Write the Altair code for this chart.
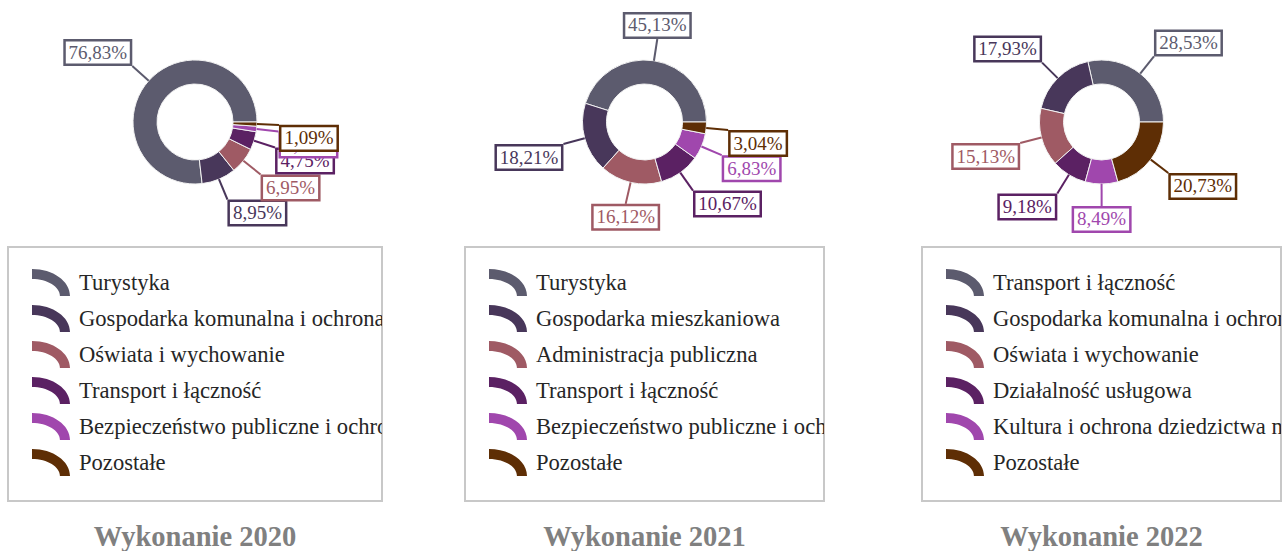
import math
import altair as alt
import pandas as pd

# Segment colours, shared by position in every year
palette = ["#5c5b6e", "#48375a", "#9f5a64", "#5b2163", "#a047ad", "#5e2e05"]

categories_2020 = [
    "Turystyka",
    "Gospodarka komunalna i ochrona środowiska",
    "Oświata i wychowanie",
    "Transport i łączność",
    "Bezpieczeństwo publiczne i ochrona przeciwpożarowa",
    "Pozostałe",
]
values_2020 = [76.83, 8.95, 6.95, 4.75, 1.43, 1.09]

categories_2021 = [
    "Turystyka",
    "Gospodarka mieszkaniowa",
    "Administracja publiczna",
    "Transport i łączność",
    "Bezpieczeństwo publiczne i ochrona przeciwpożarowa",
    "Pozostałe",
]
values_2021 = [45.13, 18.21, 16.12, 10.67, 6.83, 3.04]

categories_2022 = [
    "Transport i łączność",
    "Gospodarka komunalna i ochrona środowiska",
    "Oświata i wychowanie",
    "Działalność usługowa",
    "Kultura i ochrona dziedzictwa narodowego",
    "Pozostałe",
]
values_2022 = [28.53, 17.93, 15.13, 9.18, 8.49, 20.73]

SERIF = "Liberation Serif"
R_OUT, R_IN, LEAD = 62, 38, 22      # ring radii and leader length, px
BOX_H = 27                          # label box height, px
BOX_UNIT = 40                       # px per path unit for size=6400 symbols
DONUT_H = 242
LEGEND_H = 254

# Curved legend swatch: an elliptical quarter ring inside the unit square
ICON_PATH = ("M-1,-0.71 A2,1.42 0 0 1 1,0.71 L0.47,0.71 "
             "A1.47,0.895 0 0 0 -1,-0.185 Z")


def slice_table(cats, vals):
    total = sum(vals)
    rows, cum = [], 0.0
    for i, (c, v) in enumerate(zip(cats, vals)):
        ang = (cum + v / 2) / total * 2 * math.pi   # counter-clockwise from 3 o'clock
        cum += v
        ca, sa = math.cos(ang), math.sin(ang)
        label = f"{v:.2f}".replace(".", ",") + "%"
        bw = 9 * len(label) + 15
        ex, ey = (R_OUT + LEAD) * ca, (R_OUT + LEAD) * sa
        sx = 0 if abs(ca) < 0.3 else math.copysign(1, ca)
        sy = math.copysign(1, sa)
        hw, hh = (bw - 2.5) / 2 / BOX_UNIT, (BOX_H - 2.5) / 2 / BOX_UNIT
        rows.append({
            "idx": i, "cat": c, "value": v, "label": label, "color": palette[i],
            "x0": R_OUT * ca, "y0": R_OUT * sa, "x1": ex, "y1": ey,
            "bx": ex + sx * bw / 2, "by": ey + sy * BOX_H / 2,
            "box": f"M{-hw:.4f},{-hh:.4f}H{hw:.4f}V{hh:.4f}H{-hw:.4f}Z",
        })
    return pd.DataFrame(rows)


def donut(cats, vals, width):
    df = slice_table(cats, vals)
    xs = alt.Scale(domain=[-width / 2, width / 2], nice=False, zero=False)
    ys = alt.Scale(domain=[-DONUT_H / 2, DONUT_H / 2], nice=False, zero=False)
    base = alt.Chart(df)

    ring = base.mark_arc(radius=R_OUT, innerRadius=R_IN, stroke="#f2f2f2", strokeWidth=1).encode(
        theta=alt.Theta("value:Q", stack=True,
                        scale=alt.Scale(range=[math.pi / 2, 5 * math.pi / 2])),
        color=alt.Color("color:N", scale=None),
        order=alt.Order("idx:Q", sort="descending"),
    )
    leads = base.mark_rule(strokeWidth=2).encode(
        x=alt.X("x0:Q", scale=xs, axis=None),
        y=alt.Y("y0:Q", scale=ys, axis=None),
        x2="x1:Q", y2="y1:Q",
        color=alt.Color("color:N", scale=None),
    )
    boxes = base.mark_point(size=BOX_UNIT * BOX_UNIT * 4, strokeWidth=2.5, opacity=1,
                            fillOpacity=1, strokeOpacity=1).encode(
        x=alt.X("bx:Q", scale=xs, axis=None),
        y=alt.Y("by:Q", scale=ys, axis=None),
        shape=alt.Shape("box:N", scale=None),
        fill=alt.value("white"),
        stroke=alt.Stroke("color:N", scale=None),
    )
    texts = base.mark_text(font=SERIF, fontSize=19, align="center", baseline="middle").encode(
        x=alt.X("bx:Q", scale=xs, axis=None),
        y=alt.Y("by:Q", scale=ys, axis=None),
        text="label:N",
        color=alt.Color("color:N", scale=None),
    )
    layers = [ring, leads]
    # each label box is drawn with its own text before the next one
    for i in range(len(vals)):
        layers.append(boxes.transform_filter(alt.datum.idx == i))
        layers.append(texts.transform_filter(alt.datum.idx == i))
    return alt.layer(*layers).properties(width=width, height=DONUT_H)


def legend(cats, width, year):
    df = pd.DataFrame({"idx": list(range(len(cats))), "cat": cats, "color": palette})
    y = alt.Y("idx:O", axis=None, scale=alt.Scale(type="point", range=[35.5, 215.5], padding=0))
    icons = alt.Chart(df).mark_point(shape=ICON_PATH, size=1444, filled=True,
                                     opacity=1, strokeWidth=0).encode(
        x=alt.value(43), y=y, color=alt.Color("color:N", scale=None),
    )
    names = alt.Chart(df).mark_text(align="left", baseline="middle", font=SERIF,
                                    fontSize=22.6, color="#262626", clip=True).encode(
        x=alt.value(71), y=y, text="cat:N",
    )
    return alt.layer(icons, names).properties(
        width=width, height=LEGEND_H,
        view=alt.ViewBackground(stroke="#c8c8c8", strokeWidth=2),
        title=alt.Title(f"Wykonanie {year}", orient="bottom", anchor="middle", font=SERIF,
                        fontSize=28.5, fontWeight="bold", color="#808080", offset=22),
    )


def column(cats, vals, width, year):
    return alt.vconcat(donut(cats, vals, width), legend(cats, width, year), spacing=2)


col_2020 = column(categories_2020, values_2020, 374, "2020")
col_2021 = column(categories_2021, values_2021, 359, "2021")
col_2022 = column(categories_2022, values_2022, 359, "2022")

chart = alt.hconcat(
    alt.hconcat(col_2020, col_2021, spacing=81), col_2022, spacing=96
).properties(
    padding={"left": 7, "top": 0, "right": 0, "bottom": 0},
    background="white",
).configure_view(stroke="transparent")

chart.save("out.html", embed_options={"renderer": "svg", "actions": False})
